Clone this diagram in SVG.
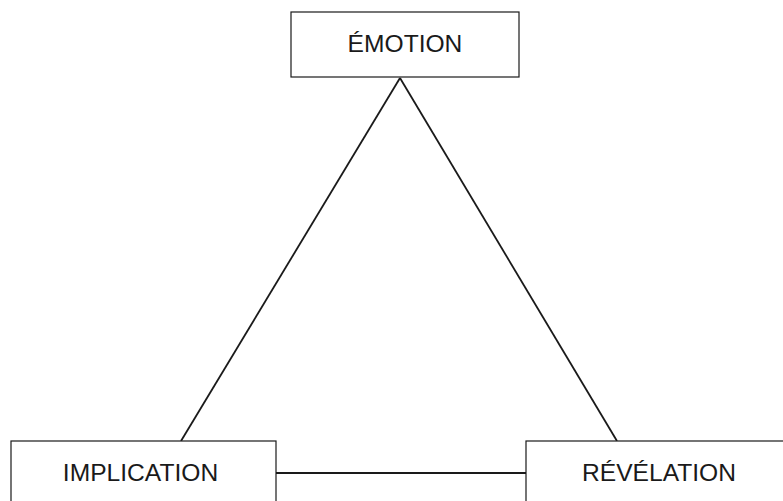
<svg xmlns="http://www.w3.org/2000/svg" width="783" height="501" viewBox="0 0 783 501">
  <style>
    .box { fill: #ffffff; stroke: #1a1a1a; stroke-width: 1.2; }
    .link { stroke: #1a1a1a; stroke-width: 1.8; fill: none; }
    .label { font-family: "Liberation Sans", Arial, sans-serif; font-size: 24.6px; fill: #1a1a1a; text-anchor: middle; }
  </style>
  <rect width="783" height="501" fill="#ffffff"/>
  <g id="connectors">
    <line class="link" x1="400" y1="78" x2="181" y2="441"/>
    <line class="link" x1="400" y1="78" x2="617" y2="441"/>
    <line class="link" x1="276" y1="473" x2="526" y2="473"/>
  </g>
  <g id="emotion">
    <rect class="box" x="291" y="12" width="228" height="65"/>
    <text class="label" x="405" y="52">ÉMOTION</text>
  </g>
  <g id="implication">
    <rect class="box" x="11" y="441" width="265" height="70"/>
    <text class="label" x="140.5" y="481">IMPLICATION</text>
  </g>
  <g id="revelation">
    <rect class="box" x="526" y="441" width="270" height="70"/>
    <text class="label" x="659" y="481">RÉVÉLATION</text>
  </g>
</svg>
